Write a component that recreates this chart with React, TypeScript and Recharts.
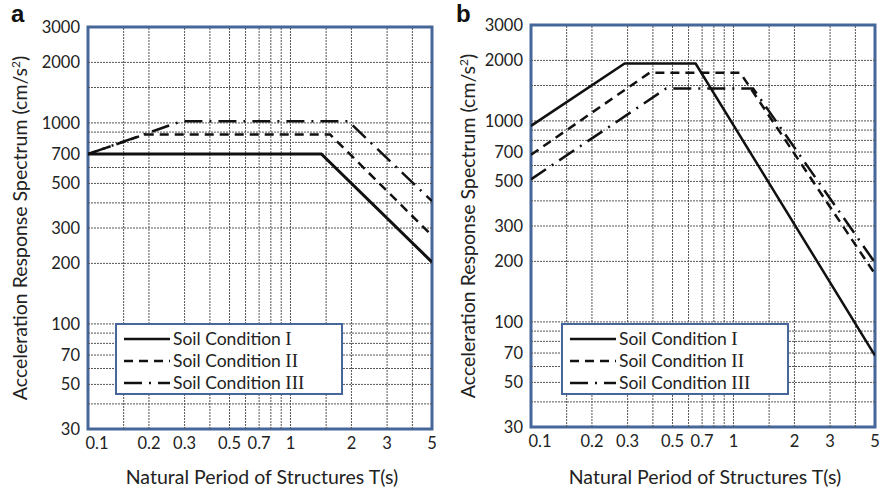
import React from 'react';
import { LineChart, Line, XAxis, YAxis, ReferenceLine, ReferenceArea } from 'recharts';

// axis ticks and grid values (log-log)
const periodTicks = [0.1, 0.2, 0.3, 0.5, 0.7, 1, 2, 3, 5];
const accelTicks = [30, 50, 70, 100, 200, 300, 500, 700, 1000, 2000, 3000];
const periodGrid = [0.15, 0.2, 0.3, 0.4, 0.5, 0.6, 0.7, 0.8, 0.9, 1, 1.5, 2, 3, 4];
const accelGrid = [40, 50, 60, 70, 80, 90, 100, 200, 300, 400, 500, 600, 700, 800, 900, 1000, 1500, 2000];

const seriesNames = ['Soil Condition ', 'Soil Condition ', 'Soil Condition '];
const numerals = ['I', 'II', 'III'];

// panel a
const aPeriodI = [0.1, 1.42, 5];
const aAccelI = [700, 700, 203];
const aPeriodII = [0.1, 0.19, 1.57, 5];
const aAccelII = [700, 875, 875, 275];
const aPeriodIII = [0.1, 0.29, 1.93, 5];
const aAccelIII = [700, 1020, 1020, 408];

// panel b
const bPeriodI = [0.1, 0.29, 0.65, 5];
const bAccelI = [945, 1930, 1930, 68];
const bPeriodII = [0.1, 0.385, 1.08, 5];
const bAccelII = [678, 1735, 1735, 173];
const bPeriodIII = [0.1, 0.465, 1.25, 5];
const bAccelIII = [512, 1450, 1450, 197];

const BLUE = '#46679a';
const FONT = 'Lato, "Open Sans", sans-serif';
const SERIF = '"Liberation Serif", "DejaVu Serif", serif';

const DASH = ['', '9 6', '18 7 2 7'];

const toPoints = (t: number[], a: number[]) => t.map((x, i) => ({ t: x, a: a[i] }));

const PeriodTick = (props: any) => {
  const { x, y, payload } = props;
  const shift = payload.value === 0.1 ? 9 : 0;
  return (
    <text x={x + shift} y={y} dy="0.71em" textAnchor="middle" fontSize={16.5} fontFamily={FONT} fill="#222">
      {payload.value}
    </text>
  );
};

interface PanelProps {
  left: number;
  letter: string;
  margin: { top: number; right: number; bottom: number; left: number };
  series: { t: number[]; a: number[]; width: number }[];
  legendLeft: number;
}

function Panel({ left, letter, margin, series, legendLeft }: PanelProps) {
  const plotLeft = margin.left + 60;
  const plotRight = 440 - margin.right;
  const plotTop = margin.top;
  const plotBottom = 493 - margin.bottom - 30;
  const midX = (plotLeft + plotRight) / 2 - 8;

  return (
    <div style={{ position: 'absolute', left, top: 0, width: 440, height: 493 }}>
      <LineChart width={440} height={493} margin={margin}>
        <XAxis
          dataKey="t"
          type="number"
          scale="log"
          domain={[0.1, 5]}
          allowDataOverflow
          ticks={periodTicks}
          tick={PeriodTick}
          tickLine={false}
          axisLine={false}
          tickSize={0}
          tickMargin={8}
          height={30}
        />
        <YAxis
          type="number"
          scale="log"
          domain={[30, 3000]}
          allowDataOverflow
          ticks={accelTicks}
          tickLine={false}
          axisLine={false}
          tickSize={0}
          tickMargin={8}
          width={60}
          tick={{ fontSize: 16.5, fontFamily: FONT, fill: '#222' }}
        />
        {periodGrid.map((v) => (
          <ReferenceLine key={'x' + v} x={v} stroke="#555" strokeWidth={1} strokeDasharray="2 1" />
        ))}
        {accelGrid.map((v) => (
          <ReferenceLine key={'y' + v} y={v} stroke="#555" strokeWidth={1} strokeDasharray="2 1" />
        ))}
        {series.map((s, i) => (
          <Line
            key={i}
            data={toPoints(s.t, s.a)}
            dataKey="a"
            stroke="#111"
            strokeWidth={s.width}
            strokeDasharray={DASH[i]}
            dot={false}
            activeDot={false}
            isAnimationActive={false}
          />
        ))}
        <ReferenceArea x1={0.1} x2={5} y1={30} y2={3000} fill="none" stroke={BLUE} strokeWidth={3} />
      </LineChart>

      {/* panel letter */}
      <div
        style={{
          position: 'absolute', left: letter === 'a' ? 11 : 16, top: 0, lineHeight: '28px',
          fontFamily: '"Liberation Sans", Arial, sans-serif', fontWeight: 'bold', fontSize: 24, color: '#111',
        }}
      >
        {letter}
      </div>

      {/* y axis title */}
      <div
        style={{
          position: 'absolute', left: (letter === 'a' ? 20 : 28) - 200, top: (plotTop + plotBottom) / 2 - 13,
          width: 400, textAlign: 'center', transform: 'rotate(-90deg)',
          fontFamily: FONT, fontSize: 19.5, color: '#222', lineHeight: '26px', whiteSpace: 'nowrap',
        }}
      >
        Acceleration Response Spectrum (cm/s<sup style={{ fontSize: 12, lineHeight: 0 }}>2</sup>)
      </div>

      {/* x axis title */}
      <div
        style={{
          position: 'absolute', left: midX + 10 - 200, top: 464, width: 400, textAlign: 'center',
          fontFamily: FONT, fontSize: 19.5, color: '#222', lineHeight: '26px', whiteSpace: 'nowrap',
        }}
      >
        Natural Period of Structures T(s)
      </div>

      {/* legend */}
      <div
        style={{
          position: 'absolute', left: legendLeft, top: 323, width: 228, height: 72, boxSizing: 'border-box',
          border: `2px solid ${BLUE}`, background: '#fff', paddingTop: 3,
        }}
      >
        {seriesNames.map((name, i) => (
          <div key={i} style={{ display: 'flex', alignItems: 'center', height: 22, paddingLeft: 7 }}>
            <svg width={46} height={10} style={{ marginRight: 3, flexShrink: 0 }}>
              <line x1={0} y1={5} x2={46} y2={5} stroke="#111" strokeWidth={2.5} strokeDasharray={i === 1 ? '9 6' : i === 2 ? '18 7 2 7' : ''} />
            </svg>
            <span style={{ fontFamily: FONT, fontSize: 17.5, color: '#222', whiteSpace: 'nowrap', lineHeight: '22px' }}>
              {name}
              <span style={{ fontFamily: SERIF, fontSize: 19 }}>{numerals[i]}</span>
            </span>
          </div>
        ))}
      </div>
    </div>
  );
}

export default function App() {
  return (
    <div style={{ position: 'absolute', left: 0, top: 0, width: 880, height: 493, background: '#fff', overflow: 'hidden' }}>
      <Panel
        left={0}
        letter="a"
        margin={{ top: 27, right: 8, bottom: 34, left: 28 }}
        legendLeft={115}
        series={[
          { t: aPeriodI, a: aAccelI, width: 3 },
          { t: aPeriodII, a: aAccelII, width: 2.5 },
          { t: aPeriodIII, a: aAccelIII, width: 2.5 },
        ]}
      />
      <Panel
        left={440}
        letter="b"
        margin={{ top: 25, right: 5, bottom: 36, left: 31 }}
        legendLeft={121}
        series={[
          { t: bPeriodI, a: bAccelI, width: 2.5 },
          { t: bPeriodII, a: bAccelII, width: 2.5 },
          { t: bPeriodIII, a: bAccelIII, width: 2.5 },
        ]}
      />
    </div>
  );
}
